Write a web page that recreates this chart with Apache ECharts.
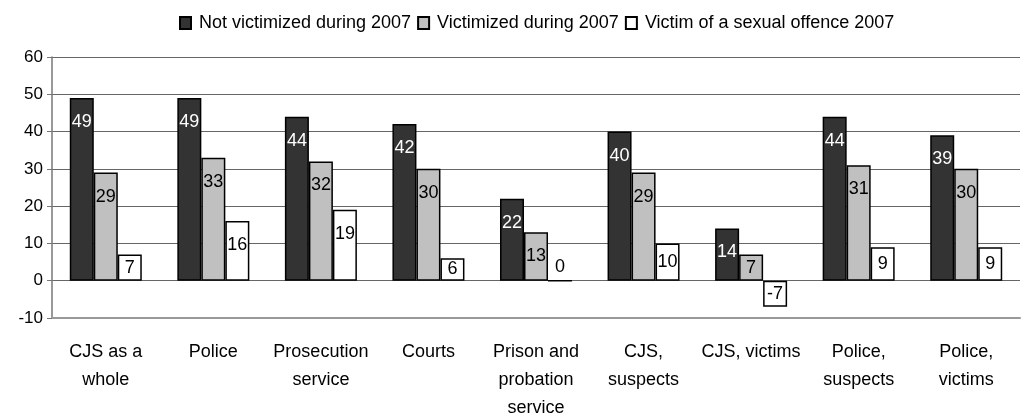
<!DOCTYPE html>
<html>
<head>
<meta charset="utf-8">
<script src="https://cdn.jsdelivr.net/npm/echarts@6/dist/echarts.min.js"></script>
<style>
  html, body { margin: 0; padding: 0; background: #fff; }
  #chart { width: 1025px; height: 419px; }
</style>
</head>
<body>
<div id="chart"></div>
<script>
// categories (line breaks as in the original)
const categories = [
  "CJS as a\nwhole",
  "Police",
  "Prosecution\nservice",
  "Courts",
  "Prison and\nprobation\nservice",
  "CJS,\nsuspects",
  "CJS, victims",
  "Police,\nsuspects",
  "Police,\nvictims"
];
const seriesNames = [
  "Not victimized during 2007",
  "Victimized during 2007",
  "Victim of a sexual offence 2007"
];
const notVictimized = [49, 49, 44, 42, 22, 40, 14, 44, 39];
const victimized = [29, 33, 32, 30, 13, 29, 7, 31, 30];
const sexualOffence = [7, 16, 19, 6, 0, 10, -7, 9, 9];

const fontFamily = "'Liberation Sans', Arial, sans-serif";

// label placement: near the top for tall bars, centred for short ones
function withLabels(values) {
  return values.map(v => {
    let label;
    if (v === 0) {
      label = { position: "top", distance: 4 };
    } else if (Math.abs(v) < 12) {
      label = { position: "inside" };
    } else {
      label = { position: "insideTop", distance: 15 };
    }
    return { value: v, label: label };
  });
}

function makeSeries(name, values, fill, textColor) {
  return {
    name: name,
    type: "bar",
    barWidth: 24,
    barGap: "0%",
    itemStyle: { color: fill, borderColor: "#000", borderWidth: 1.5 },
    label: {
      show: true,
      color: textColor,
      fontSize: 18,
      fontFamily: fontFamily
    },
    data: withLabels(values)
  };
}

const myChart = echarts.init(document.getElementById("chart"));
myChart.setOption({
  animation: false,
  backgroundColor: "#fff",
  legend: {
    data: seriesNames,
    top: 9,
    left: 174,
    icon: "rect",
    itemWidth: 11,
    itemHeight: 12,
    itemGap: 6,
    textStyle: { fontSize: 18, color: "#000", fontFamily: fontFamily, padding: [0, 0, 0, 3] }
  },
  grid: { left: 52, right: 5, top: 57, bottom: 101, containLabel: false, outerBoundsMode: "none" },
  xAxis: {
    type: "category",
    data: categories,
    axisLine: { onZero: false, lineStyle: { color: "#999", width: 2 } },
    axisTick: { show: false },
    axisLabel: {
      color: "#000",
      fontSize: 18,
      fontFamily: fontFamily,
      lineHeight: 28,
      margin: 20,
      interval: 0
    }
  },
  yAxis: {
    type: "value",
    min: -10,
    max: 60,
    interval: 10,
    axisLine: { show: true, lineStyle: { color: "#777", width: 1.5 } },
    axisTick: { show: true, length: 5, lineStyle: { color: "#777" } },
    axisLabel: { color: "#000", fontSize: 17, fontFamily: fontFamily, margin: 9 },
    splitLine: { show: true, lineStyle: { color: "#666", width: 1 } }
  },
  series: [
    makeSeries(seriesNames[0], notVictimized, "#333333", "#fff"),
    makeSeries(seriesNames[1], victimized, "#c0c0c0", "#000"),
    makeSeries(seriesNames[2], sexualOffence, "#ffffff", "#000")
  ]
});
</script>
</body>
</html>
